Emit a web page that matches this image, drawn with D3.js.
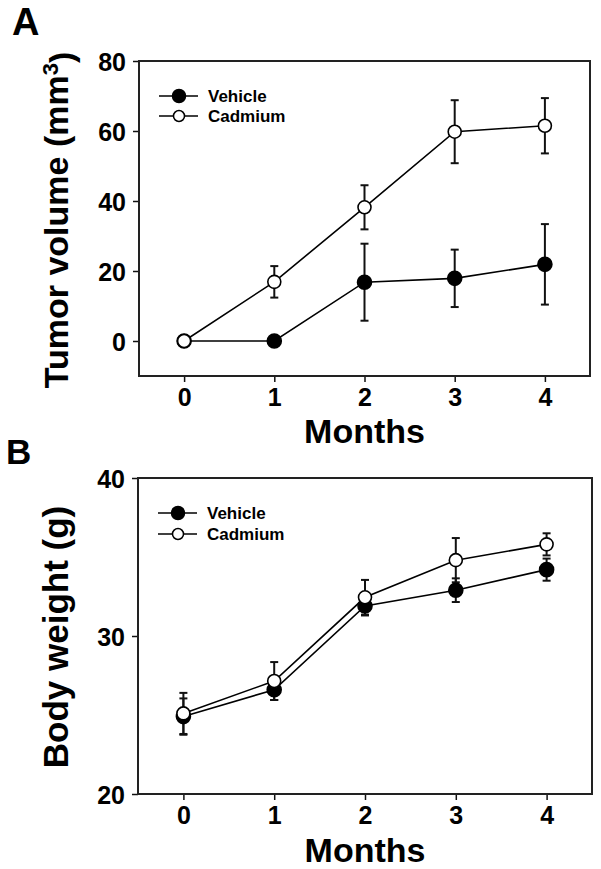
<!DOCTYPE html>
<html><head><meta charset="utf-8">
<script src="https://cdn.jsdelivr.net/npm/d3@7"></script>
<style>body{margin:0;background:#fff}svg{display:block}text{font-family:"Liberation Sans",Arial,sans-serif;font-weight:bold;fill:#000}</style>
</head><body>
<script>
const months = [0, 1, 2, 3, 4];
const seriesNames = ["Vehicle", "Cadmium"];
const tumorVehicle = [0, 0, 16.8, 17.9, 21.9];
const tumorVehicleErr = [0, 0, 11, 8.2, 11.5];
const tumorCadmium = [0, 16.9, 38.2, 59.8, 61.5];
const tumorCadmiumErr = [0, 4.5, 6.3, 9, 7.9];
const weightVehicle = [24.9, 26.6, 31.9, 32.9, 34.2];
const weightVehicleErr = [1.15, 0.65, 0.6, 0.75, 0.7];
const weightCadmium = [25.1, 27.15, 32.45, 34.8, 35.8];
const weightCadmiumErr = [1.3, 1.2, 1.1, 1.4, 0.7];
const tumorTicks = [0, 20, 40, 60, 80];
const weightTicks = [20, 30, 40];

const svg = d3.select("body").append("svg").attr("width", 601).attr("height", 869);

function panel(o) {
  const x = d3.scaleLinear().domain([-0.5, 4.5]).range([o.left, o.right]);
  const y = d3.scaleLinear().domain(o.ydom).range([o.bottom, o.top]);
  const g = svg.append("g");
  const xa = g.append("g").attr("transform", `translate(0,${o.bottom})`)
    .call(d3.axisBottom(x).tickValues(months).tickFormat(d3.format("d")).tickSize(6).tickSizeOuter(0));
  const ya = g.append("g").attr("transform", `translate(${o.left},0)`)
    .call(d3.axisLeft(y).tickValues(o.ticks).tickSize(6).tickSizeOuter(0));
  [xa, ya].forEach(a => {
    a.select(".domain").remove();
    a.selectAll(".tick line").attr("stroke", "#111").attr("stroke-width", 1.5);
    a.selectAll("text").style("font-size", "25px").style("font-family", "'Liberation Sans',Arial,sans-serif").style("font-weight", "bold").attr("fill", "#000");
  });
  xa.selectAll("text").attr("dy", "0.71em").attr("y", 12);
  ya.selectAll("text").attr("x", -13).attr("dy", "0.36em");
  g.append("rect").attr("x", o.left).attr("y", o.top).attr("width", o.right - o.left).attr("height", o.bottom - o.top)
    .attr("fill", "none").attr("stroke", "#222").attr("stroke-width", 2);
  const series = [
    { vals: o.vehicle, err: o.vehicleErr, fill: "#000" },
    { vals: o.cadmium, err: o.cadmiumErr, fill: "#fff" }
  ];
  const line = d3.line().x((d, i) => x(months[i])).y(d => y(d));
  series.forEach(s => {
    g.append("path").datum(s.vals).attr("d", line).attr("fill", "none").attr("stroke", "#000").attr("stroke-width", 1.6);
  });
  series.forEach(s => {
    const eg = g.append("g");
    months.forEach((m, i) => {
      if (!s.err[i]) return;
      const cx = x(m), y1 = y(s.vals[i] - s.err[i]), y2 = y(s.vals[i] + s.err[i]);
      eg.append("line").attr("x1", cx).attr("x2", cx).attr("y1", y1).attr("y2", y2).attr("stroke", "#111").attr("stroke-width", 2);
      [y1, y2].forEach(yy => eg.append("line").attr("x1", cx - 4).attr("x2", cx + 4).attr("y1", yy).attr("y2", yy).attr("stroke", "#111").attr("stroke-width", 2));
    });
  });
  series.forEach(s => {
    g.selectAll(null).data(s.vals).enter().append("circle")
      .attr("cx", (d, i) => x(months[i])).attr("cy", d => y(d))
      .attr("r", s.fill === "#000" ? 7 : 6.5).attr("fill", s.fill).attr("stroke", "#000").attr("stroke-width", 1.6);
  });
  seriesNames.forEach((n, i) => {
    const ly = o.legY + i * o.legGap;
    g.append("line").attr("x1", o.left + 20).attr("x2", o.left + 59).attr("y1", ly).attr("y2", ly).attr("stroke", "#000").attr("stroke-width", 1.6);
    g.append("circle").attr("cx", o.left + 40).attr("cy", ly).attr("r", i === 0 ? 6.5 : 5.5).attr("fill", i === 0 ? "#000" : "#fff").attr("stroke", "#000").attr("stroke-width", 1.5);
    g.append("text").attr("x", o.left + 69).attr("y", ly).attr("dy", "0.36em").style("font-size", "17px").text(n);
  });
  g.append("text").attr("x", (x(0) + x(4)) / 2).attr("y", o.xlabY).attr("text-anchor", "middle").style("font-size", "34px").text("Months");
  const yl = g.append("text").attr("transform", `translate(${o.ylabX},${o.ylabC}) rotate(-90)`)
    .attr("text-anchor", "middle").style("font-size", o.ylabSize + "px");
  o.ylab(yl);
  g.append("text").attr("x", o.tagX).attr("y", o.tagY).style("font-size", o.tagSize + "px").text(o.tag);
}

panel({
  left: 139, right: 590, top: 61, bottom: 376, ydom: [-10, 80], ticks: tumorTicks,
  vehicle: tumorVehicle, vehicleErr: tumorVehicleErr, cadmium: tumorCadmium, cadmiumErr: tumorCadmiumErr,
  legY: 96, legGap: 20, xlabY: 443, ylabX: 68, ylabC: 220, ylabSize: 34, tag: "A", tagX: 12, tagY: 35, tagSize: 38,
  ylab: t => { t.append("tspan").text("Tumor volume (mm"); t.append("tspan").attr("dy", "-0.45em").style("font-size", "22px").text("3"); t.append("tspan").attr("dy", "0.45em").text(")"); }
});
panel({
  left: 138, right: 592, top: 478, bottom: 794, ydom: [20, 40], ticks: weightTicks,
  vehicle: weightVehicle, vehicleErr: weightVehicleErr, cadmium: weightCadmium, cadmiumErr: weightCadmiumErr,
  legY: 513, legGap: 21, xlabY: 862, ylabX: 68, ylabC: 637, ylabSize: 35, tag: "B", tagX: 6, tagY: 464, tagSize: 35,
  ylab: t => t.text("Body weight (g)")
});
</script>
</body></html>
